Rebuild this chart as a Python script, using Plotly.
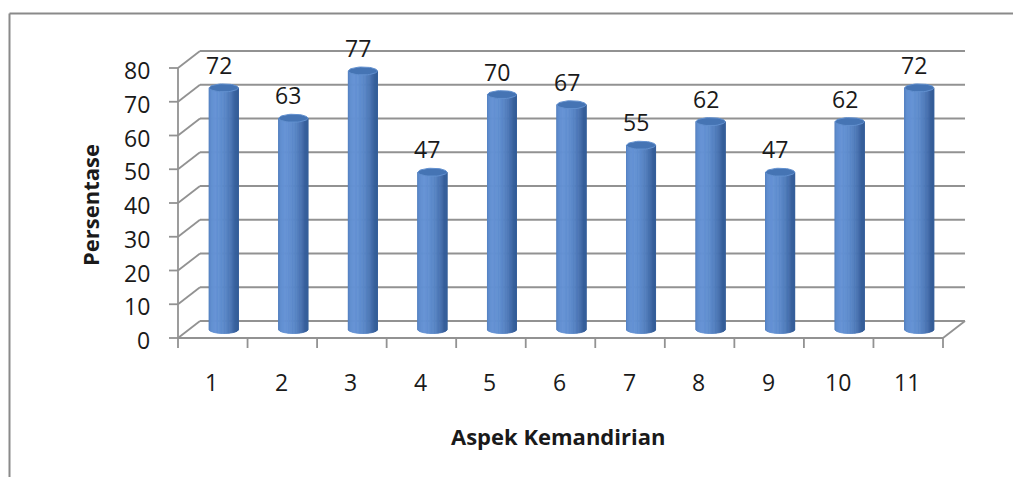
import numpy as np
import plotly.graph_objects as go

# ---------------- data ----------------
categories = ["1", "2", "3", "4", "5", "6", "7", "8", "9", "10", "11"]
values = [72, 63, 77, 47, 70, 67, 55, 62, 47, 62, 72]
y_ticks = [0, 10, 20, 30, 40, 50, 60, 70, 80]
y_tick_labels = ["0", "10", "20", "30", "40", "50", "60", "70", "80"]
x_title = "Aspek Kemandirian"
y_title = "Persentase"

# ---------------- layout geometry (pixels) ----------------
W, H = 1013, 477
ML, MR, MT, MB = 150, 23, 30, 117
FRONT_X0 = 178          # pixel x of front-left corner of the floor
FRONT_Y0 = 338          # pixel y of value 0 on the front axis
XU = (943 - 178) / 11   # pixels per category
YU = 270 / 80           # pixels per value unit
DX = 22 / XU            # 3-D depth offset (x, data units)
DY = 17 / YU            # 3-D depth offset (y, data units)
R = 14.5 / XU           # cylinder radius
EY = 4 / YU             # ellipse half-height
BASE = 0.5 * DY
TOP_OFF = 0.42 * DY

n = len(categories)
xpos = np.arange(1, n + 1, dtype=float)
x_lo, x_hi = 0.5, n + 0.5
x_range = [x_lo - (FRONT_X0 - ML) / XU, x_lo + (W - MR - FRONT_X0) / XU]
y_range = [-(H - MB - FRONT_Y0) / YU, (FRONT_Y0 - MT) / YU]

GRID = "#929292"
TXT = "#1a1a1a"
FONT = "Open Sans"

fig = go.Figure()

# ---------------- walls / gridlines ----------------
gx, gy = [], []
def seg(x0, y0, x1, y1):
    gx.extend([x0, x1, None]); gy.extend([y0, y1, None])

ymax = max(y_ticks)
for v in y_ticks:
    seg(x_lo + DX, v + DY, x_hi + DX, v + DY)   # back wall line
    seg(x_lo, v, x_lo + DX, v + DY)             # side wall diagonal
    seg(x_lo - 9 / XU, v, x_lo, v)              # tick mark
seg(x_hi, 0, x_hi + DX, DY)                     # floor right edge
seg(x_lo, 0, x_lo, ymax)                        # front vertical axis
seg(x_lo, 0, x_hi, 0)                           # floor front edge
for k in np.arange(x_lo, x_hi + 0.01, 1.0):
    seg(k, 0, k, -10 / YU)                      # category tick marks

fig.add_trace(go.Scatter(x=gx, y=gy, mode="lines",
                         line=dict(color=GRID, width=1.8),
                         hoverinfo="skip", showlegend=False, cliponaxis=False))

# ---------------- cylinders ----------------
cx = xpos + DX / 2
N = 32
thetas = np.linspace(np.pi, 0, N + 1)
dark = np.array([46, 86, 144])
bright = np.array([100, 146, 212])
for j in range(N):
    t = np.linspace(thetas[j], thetas[j + 1], 3)
    tm = 0.5 * (thetas[j] + thetas[j + 1])
    diff = max(0.0, -0.55 * np.cos(tm) + 0.84 * np.sin(tm))
    shade = 0.15 + 0.85 * diff
    col = dark + (bright - dark) * shade
    color = "rgb(%d,%d,%d)" % tuple(col.astype(int))
    xs, ys = [], []
    for c, v in zip(cx, values):
        top = v + TOP_OFF
        bx = c + R * np.cos(t)
        by = BASE - EY * np.sin(t)
        xs.extend(list(bx) + [bx[-1], bx[0], bx[0], None])
        ys.extend(list(by) + [top, top, by[0], None])
    fig.add_trace(go.Scatter(x=xs, y=ys, mode="lines", fill="toself",
                             fillcolor=color, line=dict(color=color, width=0.8),
                             hoverinfo="skip", showlegend=False))

# caps
tt = np.linspace(0, 2 * np.pi, 41)
capx, capy = [], []
for c, v in zip(cx, values):
    top = v + TOP_OFF
    capx.extend(list(c + R * np.cos(tt)) + [None])
    capy.extend(list(top + EY * np.sin(tt)) + [None])
fig.add_trace(go.Scatter(x=capx, y=capy, mode="lines", fill="toself",
                         fillcolor="#4574b4", line=dict(color="#6290cf", width=1),
                         hoverinfo="skip", showlegend=False))

# ---------------- annotations ----------------
ann = []
for c, v in zip(cx, values):
    ann.append(dict(x=c, y=v + TOP_OFF, text=str(v), showarrow=False,
                    xshift=-5, yshift=23, font=dict(family=FONT, size=23, color=TXT)))
for v, lab in zip(y_ticks, y_tick_labels):
    ann.append(dict(x=x_lo, y=v, text=lab, showarrow=False, xanchor="right",
                    xshift=-26, yshift=-2, font=dict(family=FONT, size=23, color=TXT)))
for xv, lab in zip(xpos, categories):
    ann.append(dict(x=xv, y=0, text=lab, showarrow=False, yshift=-44,
                    xshift=-1, font=dict(family=FONT, size=23, color=TXT)))
pw, ph = W - ML - MR, H - MT - MB
ann.append(dict(x=(557.5 - ML) / pw, y=(H - MB - 436) / ph,
                xref="paper", yref="paper", xanchor="center", yanchor="middle",
                text="<b>%s</b>" % x_title, showarrow=False,
                font=dict(family=FONT, size=22, color=TXT)))
ann.append(dict(x=(90 - ML) / pw, y=(H - MB - 205) / ph,
                xref="paper", yref="paper", xanchor="center", yanchor="middle",
                text="<b>%s</b>" % y_title, showarrow=False,
                textangle=-90, font=dict(family=FONT, size=22, color=TXT)))

bx0, by_top = (9.5 - ML) / pw, (H - MB - 13.5) / ph
border = [
    dict(type="line", xref="paper", yref="paper", x0=bx0, x1=(W + 20 - ML) / pw,
         y0=by_top, y1=by_top, line=dict(color="#8a8a8a", width=2)),
    dict(type="line", xref="paper", yref="paper", x0=bx0, x1=bx0,
         y0=by_top, y1=(H - MB - H - 20) / ph, line=dict(color="#8a8a8a", width=2)),
]

fig.update_layout(
    width=W, height=H, margin=dict(l=ML, r=MR, t=MT, b=MB),
    paper_bgcolor="white", plot_bgcolor="white",
    xaxis=dict(range=x_range, visible=False, fixedrange=True),
    yaxis=dict(range=y_range, visible=False, fixedrange=True),
    annotations=ann, shapes=border, showlegend=False,
)

fig.write_html("out.html")
